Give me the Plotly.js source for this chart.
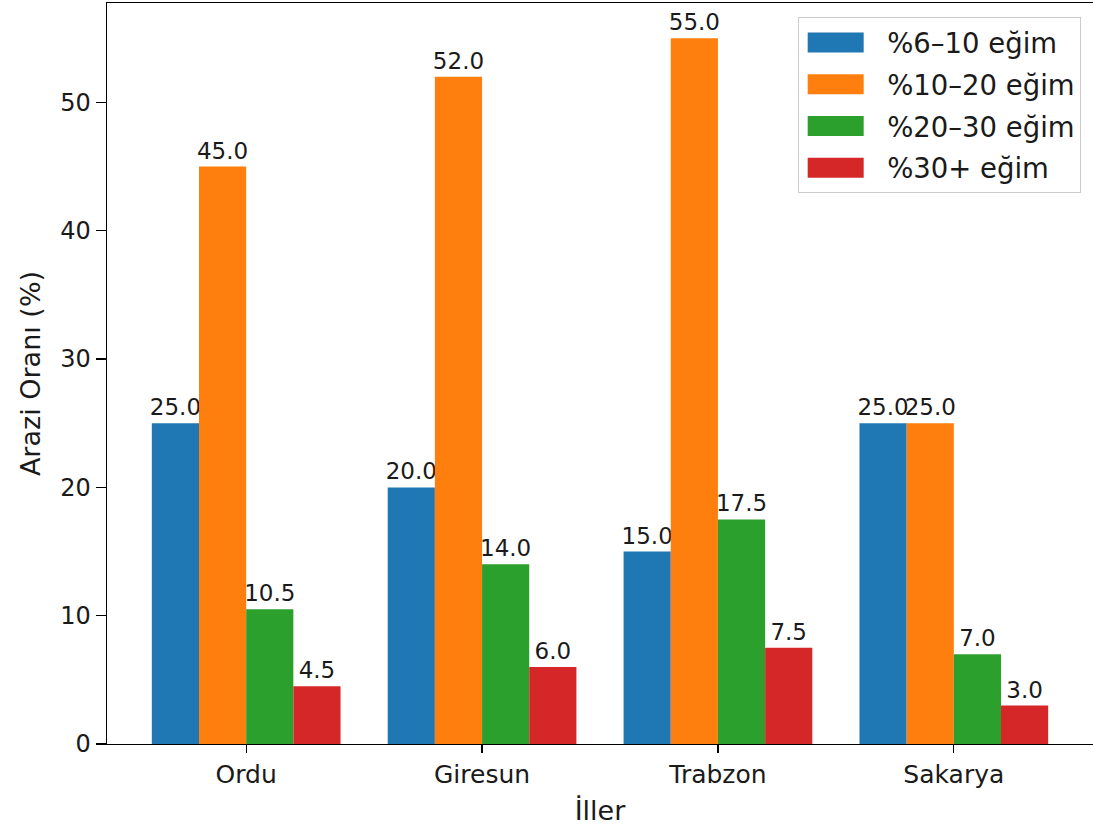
<!DOCTYPE html>
<html>
<head>
<meta charset="utf-8">
<script src="https://cdn.plot.ly/plotly-3.0.1.min.js"></script>
<style>html,body{margin:0;padding:0;background:#fff;}#chart{width:1093px;height:834px;}</style>
</head>
<body>
<div id="chart"></div>
<script>
const categories = ["Ordu", "Giresun", "Trabzon", "Sakarya"];
const seriesNames = ["%6–10 eğim", "%10–20 eğim", "%20–30 eğim", "%30+ eğim"];
const s6_10 = [25.0, 20.0, 15.0, 25.0];
const s10_20 = [45.0, 52.0, 55.0, 25.0];
const s20_30 = [10.5, 14.0, 17.5, 7.0];
const s30p = [4.5, 6.0, 7.5, 3.0];
const colors = ["#1f77b4", "#ff7f0e", "#2ca02c", "#d62728"];
const yTicks = [0, 10, 20, 30, 40, 50];

const allSeries = [s6_10, s10_20, s20_30, s30p];
const font = "DejaVu Sans, sans-serif";
const txt = "#1a1a1a";
const traces = allSeries.map((vals, i) => ({
  type: "bar",
  name: seriesNames[i],
  legendgroup: "g" + i,
  x: categories,
  y: vals,
  marker: {color: colors[i], line: {width: 0}},
  text: vals.map(v => v.toFixed(1)),
  textposition: "outside",
  textfont: {family: font, size: 23, color: txt},
  cliponaxis: false,
  constraintext: "none",
  hoverinfo: "skip"
}));

const layout = {
  width: 1093, height: 834,
  margin: {l: 107, r: 0, t: 3, b: 90},
  paper_bgcolor: "#fff", plot_bgcolor: "#fff",
  barmode: "group", bargap: 0.2, bargroupgap: 0,
  font: {family: font, color: txt},
  showlegend: true,
  legend: {
    x: 0.701, y: 0.981, xanchor: "left", yanchor: "top",
    bgcolor: "rgba(255,255,255,0.8)", bordercolor: "#cccccc", borderwidth: 1,
    font: {family: font, size: 27.5, color: txt},
    tracegroupgap: 3, itemwidth: 78
  },
  xaxis: {
    type: "category", range: [-0.59, 3.59],
    showline: true, linecolor: "#000", linewidth: 1.3, mirror: true,
    ticks: "outside", ticklen: 8, tickcolor: "#000", tickwidth: 1.2,
    tickfont: {family: font, size: 25, color: txt},
    showgrid: false, zeroline: false,
    title: {text: "İller", font: {family: font, size: 27, color: txt}, standoff: 12}
  },
  yaxis: {
    range: [0, 57.75], tickvals: yTicks,
    showline: true, linecolor: "#000", linewidth: 1.3, mirror: false,
    ticks: "outside", ticklen: 10, tickcolor: "#000", tickwidth: 1.2,
    tickfont: {family: font, size: 24, color: txt},
    showgrid: false, zeroline: false,
    title: {text: "Arazi Oranı (%)", font: {family: font, size: 27, color: txt}, standoff: 12}
  }
};

Plotly.newPlot("chart", traces, layout, {staticPlot: true, displayModeBar: false}).then(gd => {
  const bg = gd.querySelector(".legend .bg");
  if (!bg) return;
  const left = bg.getBoundingClientRect().left;
  gd.querySelectorAll(".legend .legendpoints path").forEach(p => {
    const ctm = p.getScreenCTM();
    const dx = (left + 37) - ctm.e;
    p.setAttribute("d", `M${dx + 28},10H${dx - 28}V-10H${dx + 28}Z`);
  });
});
</script>
</body>
</html>
